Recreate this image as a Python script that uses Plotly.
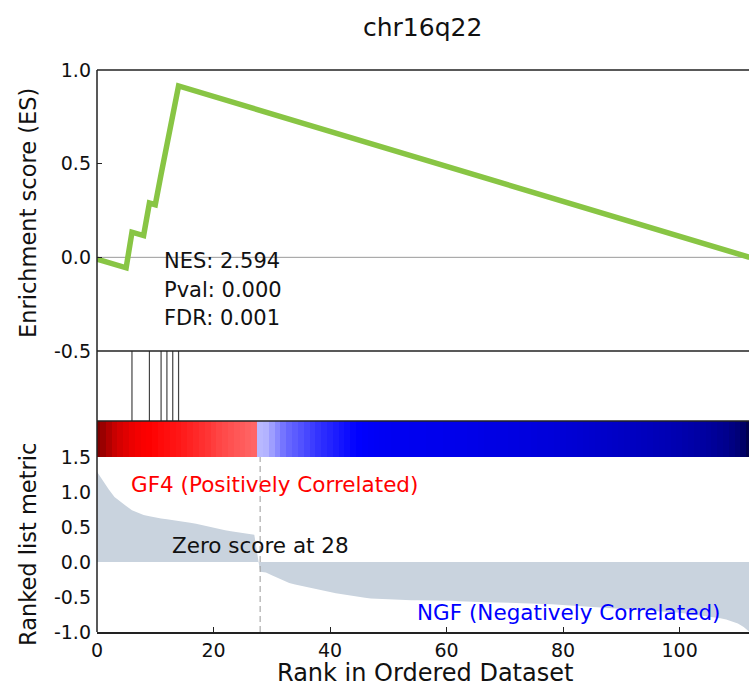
import plotly.graph_objects as go

# ---------------- data ----------------
title_text = "chr16q22"
ranks = list(range(113))
rank_metric = [
    1.29, 1.16, 1.04, 0.93, 0.86, 0.80, 0.74, 0.70, 0.67, 0.655,
    0.635, 0.62, 0.61, 0.60, 0.59, 0.575, 0.56, 0.545, 0.525, 0.51,
    0.49, 0.47, 0.455, 0.44, 0.425, 0.415, 0.40, 0.39, -0.14, -0.15,
    -0.19, -0.23, -0.27, -0.30, -0.32, -0.34, -0.36, -0.38, -0.40, -0.415,
    -0.43, -0.445, -0.46, -0.475, -0.49, -0.50, -0.51, -0.52, -0.525, -0.53,
    -0.535, -0.54, -0.54, -0.54, -0.545, -0.545, -0.545, -0.55, -0.55, -0.55,
    -0.555, -0.555, -0.56, -0.56, -0.565, -0.565, -0.57, -0.575, -0.575, -0.58,
    -0.58, -0.585, -0.585, -0.59, -0.59, -0.595, -0.60, -0.60, -0.605, -0.61,
    -0.615, -0.62, -0.625, -0.63, -0.635, -0.64, -0.645, -0.65, -0.655, -0.66,
    -0.665, -0.67, -0.675, -0.68, -0.685, -0.69, -0.70, -0.705, -0.71, -0.72,
    -0.725, -0.735, -0.745, -0.755, -0.765, -0.775, -0.79, -0.805, -0.82, -0.85,
    -0.88, -0.93, -1.00,
]
hit_indices = [6, 9, 11, 12, 13, 14]
es_rank = [0, 5, 6, 8, 9, 10, 11, 12, 13, 14, 112]
es_values = [-0.01, -0.056, 0.134, 0.116, 0.29, 0.281, 0.444, 0.604, 0.762, 0.915, 0.0]
zero_score_ind = 28
nes_lines = ["NES: 2.594", "Pval: 0.000", "FDR: 0.001"]
pheno_pos = "GF4 (Positively Correlated)"
pheno_neg = "NGF (Negatively Correlated)"
es_ticks = [-0.5, 0.0, 0.5, 1.0]
rank_ticks = [-1.0, -0.5, 0.0, 0.5, 1.0, 1.5]
x_ticks = [0, 20, 40, 60, 80, 100]

# ---------------- layout geometry ----------------
W, H = 749, 687
ML, MR, MT, MB = 97, 0, 70, 55
plot_h = H - MT - MB
def py(pix):  # pixel y -> paper y
    return (H - MB - pix) / plot_h
plot_w = W - ML - MR
def px(pix):
    return (pix - ML) / plot_w

d_es = [py(351), 1.0]
d_hit = [py(421), py(351)]
d_bar = [py(457), py(421)]
d_rank = [0.0, py(457)]

FONT = "DejaVu Sans"
SPINE = "#222222"

# seismic colormap with midpoint normalisation at zero
vmin, vmax = min(rank_metric), max(rank_metric)
p0 = (0 - vmin) / (vmax - vmin)
seismic = [
    [0.0, "rgb(0,0,77)"],
    [p0 / 2, "rgb(0,0,255)"],
    [p0, "rgb(255,255,255)"],
    [p0 + (1 - p0) / 2, "rgb(255,0,0)"],
    [1.0, "rgb(128,0,0)"],
]

fig = go.Figure()

# ranked list metric
fig.add_trace(go.Scatter(x=ranks, y=rank_metric, mode="lines", fill="tozeroy",
                         fillcolor="#C9D3DE", line=dict(width=0, color="#C9D3DE"),
                         xaxis="x", yaxis="y", hoverinfo="skip", showlegend=False))
# colour bar
fig.add_trace(go.Heatmap(z=[rank_metric], x=ranks, y=[0], colorscale=seismic,
                         zmin=vmin, zmax=vmax, showscale=False,
                         xaxis="x", yaxis="y2", hoverinfo="skip"))
# hits
hx, hy = [], []
for h in hit_indices:
    hx += [h, h, None]
    hy += [0, 1, None]
fig.add_trace(go.Scatter(x=hx, y=hy, mode="lines", line=dict(color="#444444", width=1.2),
                         xaxis="x", yaxis="y3", hoverinfo="skip", showlegend=False))
# ES curve
fig.add_trace(go.Scatter(x=es_rank, y=es_values, mode="lines",
                         line=dict(color="#88C544", width=5.5),
                         xaxis="x", yaxis="y4", hoverinfo="skip", showlegend=False))

tickfont = dict(family=FONT, size=19, color="#111111")
xmax = (W - ML - MR) / 5.826

fig.update_layout(
    width=W, height=H,
    margin=dict(l=ML, r=MR, t=MT, b=MB),
    paper_bgcolor="white", plot_bgcolor="white",
    showlegend=False,
    xaxis=dict(range=[0, xmax], anchor="y", domain=[0, 1],
               tickvals=x_ticks, ticktext=[str(v) for v in x_ticks],
               ticks="inside", ticklen=5, tickwidth=1, tickcolor=SPINE,
               showline=True, linecolor=SPINE, linewidth=1.5,
               showgrid=False, zeroline=False, tickfont=tickfont),
    yaxis=dict(domain=d_rank, range=[-1.0, 1.5], anchor="x",
               tickvals=rank_ticks, ticktext=["{:.1f}".format(v) for v in rank_ticks],
               ticks="", showline=False, showgrid=False, zeroline=False,
               tickfont=tickfont, ticklabelstandoff=5),
    yaxis2=dict(domain=d_bar, range=[-0.5, 0.5], anchor="x",
                showticklabels=False, ticks="", showgrid=False, zeroline=False),
    yaxis3=dict(domain=d_hit, range=[0, 1], anchor="x",
                showticklabels=False, ticks="", showgrid=False, zeroline=False),
    yaxis4=dict(domain=d_es, range=[-0.5, 1.0], anchor="x",
                tickvals=es_ticks, ticktext=["{:.1f}".format(v) for v in es_ticks],
                ticks="inside", ticklen=5, tickwidth=1, tickcolor=SPINE,
                showgrid=False, zeroline=False, tickfont=tickfont, ticklabelstandoff=5),
)

shapes = []
# zero line on ES panel
shapes.append(dict(type="line", xref="paper", x0=0, x1=1, yref="y4", y0=0, y1=0,
                   line=dict(color="#9a9a9a", width=1), layer="below"))
# dashed zero-score line
shapes.append(dict(type="line", xref="x", x0=zero_score_ind, x1=zero_score_ind,
                   yref="y", y0=-1.0, y1=1.5,
                   line=dict(color="#999999", width=1, dash="6px,4px")))
# spines
for yv in [1.0, d_es[0], d_hit[0]]:
    shapes.append(dict(type="line", xref="paper", x0=0, x1=1, yref="paper", y0=yv, y1=yv,
                       line=dict(color=SPINE, width=1.5)))
shapes.append(dict(type="line", xref="paper", x0=0, x1=0, yref="paper", y0=0, y1=1,
                   line=dict(color=SPINE, width=1.5)))
fig.update_layout(shapes=shapes)

ann = []
ann.append(dict(text=title_text, xref="paper", yref="paper", x=px(422), y=py(28),
                xanchor="center", yanchor="middle", showarrow=False,
                font=dict(family=FONT, size=25, color="#111111")))
for txt, yy in zip(nes_lines, [261, 290, 318]):
    ann.append(dict(text=txt, xref="paper", yref="paper", x=px(162), y=py(yy),
                    xanchor="left", yanchor="middle", showarrow=False,
                    font=dict(family=FONT, size=21, color="#111111")))
ann.append(dict(text=pheno_pos, xref="paper", yref="paper", x=px(129), y=py(484),
                xanchor="left", yanchor="middle", showarrow=False,
                font=dict(family=FONT, size=21.5, color="red")))
ann.append(dict(text=pheno_neg, xref="paper", yref="paper", x=px(722), y=py(612),
                xanchor="right", yanchor="middle", showarrow=False,
                font=dict(family=FONT, size=21.5, color="blue")))
ann.append(dict(text="Zero score at " + str(zero_score_ind), xref="x", yref="paper",
                x=zero_score_ind, y=py(545), xanchor="center", yanchor="middle",
                showarrow=False, font=dict(family=FONT, size=21.5, color="#111111")))
ann.append(dict(text="Enrichment score (ES)", xref="paper", yref="paper", x=px(28), y=py(213),
                xanchor="center", yanchor="middle", textangle=-90, showarrow=False,
                font=dict(family=FONT, size=22.5, color="#111111")))
ann.append(dict(text="Ranked list metric", xref="paper", yref="paper", x=px(28), y=py(545),
                xanchor="center", yanchor="middle", textangle=-90, showarrow=False,
                font=dict(family=FONT, size=22.5, color="#111111")))
ann.append(dict(text="Rank in Ordered Dataset", xref="paper", yref="paper", x=px(425), y=py(673),
                xanchor="center", yanchor="middle", showarrow=False,
                font=dict(family=FONT, size=24, color="#111111")))
fig.update_layout(annotations=ann)

fig.write_html("out.html")
